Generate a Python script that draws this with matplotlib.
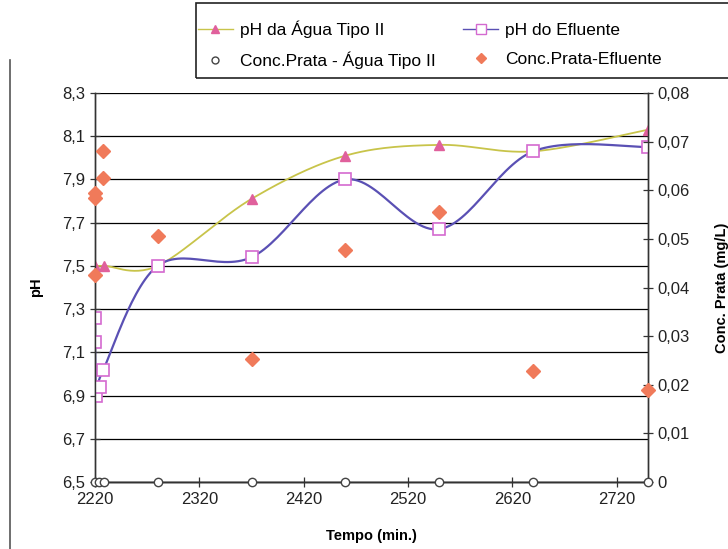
import numpy as np
import matplotlib
matplotlib.use("Agg")
import matplotlib.pyplot as plt
from matplotlib.lines import Line2D
from matplotlib.patches import Rectangle
from matplotlib.ticker import FuncFormatter

plt.rcParams['font.family'] = ['Liberation Sans', 'DejaVu Sans']

# pH da Agua Tipo II
tempo_agua = [2220, 2229, 2280, 2370, 2460, 2550, 2640, 2750]
ph_agua = [7.50, 7.50, 7.50, 7.81, 8.01, 8.06, 8.03, 8.13]

# pH do Efluente
tempo_eflu = [2220, 2220, 2221, 2225, 2228, 2280, 2370, 2460, 2550, 2640, 2750]
ph_eflu = [7.26, 7.15, 6.90, 6.94, 7.02, 7.50, 7.54, 7.90, 7.67, 8.03, 8.05]

# Conc. Prata - Agua Tipo II
tempo_conc_agua = [2220, 2224, 2229, 2280, 2370, 2460, 2550, 2640, 2750]
conc_agua = [0, 0, 0, 0, 0, 0, 0, 0, 0]

# Conc. Prata - Efluente
tempo_conc_eflu = [2220, 2220, 2220, 2228, 2228, 2280, 2370, 2460, 2550, 2640, 2750]
conc_eflu = [0.0595, 0.0585, 0.0425, 0.0680, 0.0625, 0.0505, 0.0252, 0.0478, 0.0556, 0.0228, 0.0190]

x_ticks = [2220, 2320, 2420, 2520, 2620, 2720]
ph_ticks = [6.5, 6.7, 6.9, 7.1, 7.3, 7.5, 7.7, 7.9, 8.1, 8.3]
conc_ticks = [0, 0.01, 0.02, 0.03, 0.04, 0.05, 0.06, 0.07, 0.08]

XLIM = (2220, 2750)
YLIM = (6.5, 8.3)
Y2LIM = (0, 0.08)


def smooth(x, y, xr, yr, n=30):
    # excel-like smoothed line (catmull-rom bezier), done in normalised space
    p = np.column_stack([(np.array(x) - xr[0]) / (xr[1] - xr[0]),
                         (np.array(y) - yr[0]) / (yr[1] - yr[0])])
    out = [p[0]]
    t = np.linspace(0, 1, n)[1:, None]
    for i in range(len(p) - 1):
        p0 = p[max(i - 1, 0)]
        p1, p2 = p[i], p[i + 1]
        p3 = p[min(i + 2, len(p) - 1)]
        c1 = p1 + (p2 - p0) / 6
        c2 = p2 - (p3 - p1) / 6
        seg = (1 - t) ** 3 * p1 + 3 * (1 - t) ** 2 * t * c1 + 3 * (1 - t) * t ** 2 * c2 + t ** 3 * p2
        out.extend(seg)
    out = np.array(out)
    return (out[:, 0] * (xr[1] - xr[0]) + xr[0],
            out[:, 1] * (yr[1] - yr[0]) + yr[0])


fig = plt.figure(figsize=(7.28, 5.49), dpi=100)
ax = fig.add_axes([95 / 728, 1 - 482 / 549, (648 - 95) / 728, (482 - 93) / 549])
ax2 = ax.twinx()

col_agua_line = '#c8c44a'
col_tri = '#e0609c'
col_eflu_line = '#5a50b4'
col_sq = '#d46ad0'
col_dia = '#f07a5a'

sx, sy = smooth(tempo_agua, ph_agua, XLIM, YLIM)
ax.plot(sx, sy, color=col_agua_line, lw=1.3, zorder=3)
ax.plot(tempo_agua, ph_agua, ls='none', marker='^', ms=7, color=col_tri, zorder=4)

sx, sy = smooth(tempo_eflu, ph_eflu, XLIM, YLIM)
ax.plot(sx, sy, color=col_eflu_line, lw=1.6, zorder=3)
ax.plot(tempo_eflu, ph_eflu, ls='none', marker='s', ms=8, mfc='white',
        mec=col_sq, mew=1.2, zorder=5)

ax2.plot(tempo_conc_agua, conc_agua, color='#333333', lw=1.0, marker='o', ms=6,
         mfc='white', mec='#444444', mew=1.0, clip_on=False, zorder=6)
ax2.plot(tempo_conc_eflu, conc_eflu, ls='none', marker='D', ms=7, color=col_dia,
         clip_on=False, zorder=6)

ax.set_xlim(*XLIM)
ax.set_ylim(*YLIM)
ax2.set_ylim(*Y2LIM)
ax.set_zorder(ax2.get_zorder() - 1)
ax.patch.set_visible(True)
ax2.patch.set_visible(False)

ax.set_xticks(x_ticks)
ax.set_yticks(ph_ticks)
ax2.set_yticks(conc_ticks)
ax.yaxis.set_major_formatter(FuncFormatter(lambda v, p: f'{v:.1f}'.replace('.', ',')))
ax2.yaxis.set_major_formatter(FuncFormatter(lambda v, p: '0' if abs(v) < 1e-9 else f'{v:.2f}'.replace('.', ',')))
ax.grid(axis='y', color='black', lw=0.9)

for a in (ax, ax2):
    a.spines['top'].set_visible(False)
    for s in a.spines.values():
        s.set_color('#333333')
        s.set_linewidth(1.0)
ax.tick_params(axis='both', direction='inout', length=7, width=0.9, labelsize=12,
               colors='#333333', labelcolor='#222222')
ax2.tick_params(axis='y', direction='inout', length=7, width=0.9, labelsize=12,
                colors='#333333', labelcolor='#222222')

ax.set_xlabel('Tempo (min.)', fontsize=10.5, fontweight='bold', labelpad=16)
ax.set_ylabel('pH', fontsize=10.5, fontweight='bold', labelpad=14)
ax2.set_ylabel('Conc. Prata (mg/L)', fontsize=10.5, fontweight='bold', labelpad=18)

handles = [
    Line2D([], [], color=col_agua_line, marker='^', mfc=col_tri, mec=col_tri, ms=6, lw=1),
    Line2D([], [], ls='none', marker='o', mfc='white', mec='#444444', ms=5),
    Line2D([], [], color=col_eflu_line, marker='s', mfc='white', mec=col_sq, ms=7, lw=1),
    Line2D([], [], ls='none', marker='D', color=col_dia, ms=5),
]
labels = ['pH da Água Tipo II', 'Conc.Prata - Água Tipo II',
          'pH do Efluente', 'Conc.Prata-Efluente']
leg = fig.legend(handles, labels, ncol=2, loc='upper left',
                 bbox_to_anchor=(198 / 728, 1 - 21 / 549),
                 fontsize=12.5, frameon=False, borderpad=0, borderaxespad=0,
                 handlelength=2.0, handletextpad=0.4, columnspacing=1.6,
                 labelspacing=0.75)

# legend box runs off the right edge like in the scan
fig.add_artist(Rectangle((196 / 728, 1 - 78 / 549), 0.8, 75 / 549,
                         transform=fig.transFigure, fill=False,
                         edgecolor='#222222', lw=1.2))

# scan border on the left
fig.add_artist(Line2D([10 / 728, 10 / 728], [0, 1 - 60 / 549], color='#555555', lw=1.2))

fig.savefig('out.png', dpi=100)
